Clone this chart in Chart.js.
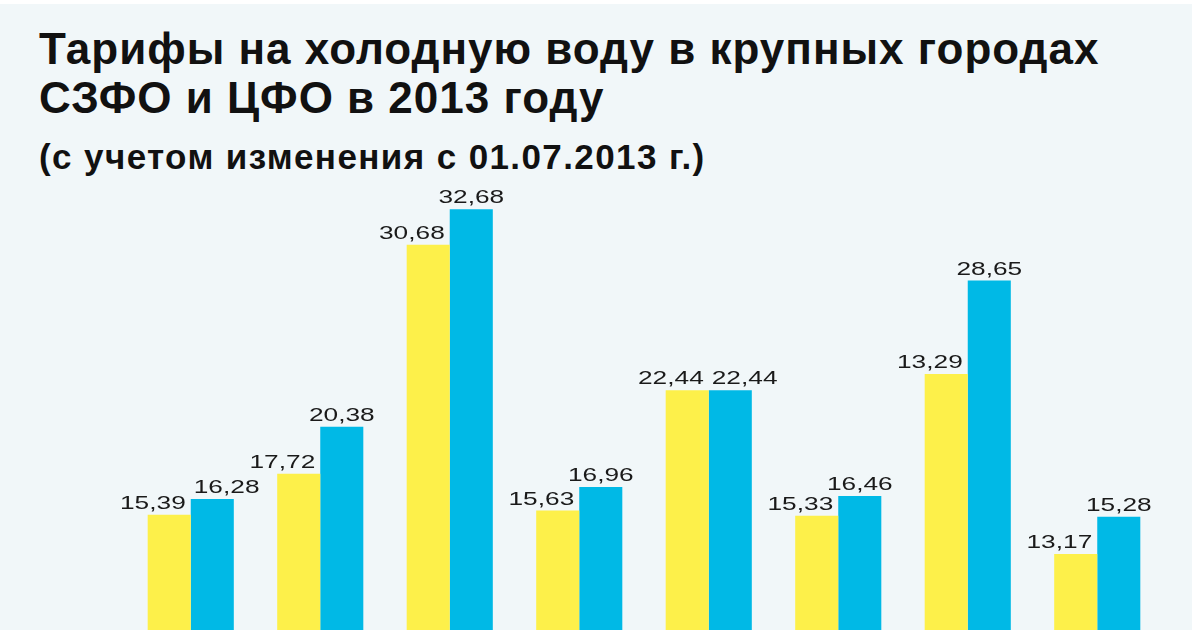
<!DOCTYPE html>
<html lang="ru">
<head>
<meta charset="utf-8">
<script src="https://cdn.jsdelivr.net/npm/chart.js@4/dist/chart.umd.min.js"></script>
<style>
  html, body { margin: 0; padding: 0; background: #ffffff; }
  #wrap { position: relative; width: 1200px; height: 630px; overflow: hidden; background: #ffffff; }
  #panel { position: absolute; left: 0; top: 4px; width: 1192px; height: 626px; background: #f1f7f9; }
  .head { position: absolute; left: 39px; font-family: "Liberation Sans", Arial, sans-serif; font-weight: bold; color: #111; white-space: nowrap; line-height: 1; }
  #t1 { top: 27px; font-size: 44px; letter-spacing: 1px; }
  #t2 { top: 76px; font-size: 44px; letter-spacing: 1px; }
  #t3 { top: 139px; font-size: 35px; letter-spacing: 1.4px; }
  canvas { position: absolute; left: 0; top: 0; }
</style>
</head>
<body>
<div id="wrap">
  <div id="panel"></div>
  <div class="head" id="t1">Тарифы на холодную воду в крупных городах</div>
  <div class="head" id="t2">СЗФО и ЦФО в 2013 году</div>
  <div class="head" id="t3">(с учетом изменения с 01.07.2013 г.)</div>
  <canvas id="waterChart" width="1200" height="630"></canvas>
</div>
<script>
"use strict"

// группы (подписи городов на картинке обрезаны)
const groups = ['1', '2', '3', '4', '5', '6', '7', '8'];

// жёлтые столбцы - высоты как на картинке (у 7-го подпись 13,29, а столбец выше)
const yellowValues = [15.39, 17.72, 30.68, 15.63, 22.44, 15.33, 23.36, 13.17];
const yellowLabels = ['15,39', '17,72', '30,68', '15,63', '22,44', '15,33', '13,29', '13,17'];

// голубые столбцы
const blueValues = [16.28, 20.38, 32.68, 16.96, 22.44, 16.46, 28.65, 15.28];
const blueLabels = ['16,28', '20,38', '32,68', '16,96', '22,44', '16,46', '28,65', '15,28'];

const ctx = document.getElementById('waterChart');

function drawStretched(c, text, x, y, stretch) {
    c.save();
    c.translate(x, y);
    c.scale(stretch, 1);
    c.fillText(text, 0, 0);
    c.restore();
}

const valueLabels = {
    id: 'valueLabels',
    afterDatasetsDraw(chart) {
        const c = chart.ctx;
        const stretch = 1.42;
        c.save();
        c.font = '18.5px "Liberation Sans", Arial, sans-serif';
        c.fillStyle = '#1a1a1a';
        c.textBaseline = 'alphabetic';
        c.textAlign = 'left';
        const yMeta = chart.getDatasetMeta(0);
        const bMeta = chart.getDatasetMeta(1);
        for (let i = 0; i < groups.length; i++) {
            const yb = yMeta.data[i];
            const bb = bMeta.data[i];

            const yw = c.measureText(yellowLabels[i]).width * stretch;
            const yRight = yb.x + yb.width / 2 - 5;
            const yLeft = yRight - yw;
            drawStretched(c, yellowLabels[i], yLeft, yb.y - 6, stretch);

            const bw = c.measureText(blueLabels[i]).width * stretch;
            let bLeft = bb.x - bw / 2;
            if (Math.abs(bb.y - yb.y) < 16 && bLeft < yRight + 6) {
                bLeft = yRight + 8;
            }
            drawStretched(c, blueLabels[i], bLeft, bb.y - 6, stretch);
        }
        c.restore();
    }
};

const waterChart = new Chart(ctx, {
    type: 'bar',
    data: {
        labels: groups,
        datasets: [{
            label: 'до 01.07.2013',
            data: yellowValues,
            backgroundColor: '#fdf04a',
            borderWidth: 0
        }, {
            label: 'с 01.07.2013',
            data: blueValues,
            backgroundColor: '#00b9e6',
            borderWidth: 0
        }]
    },
    options: {
        responsive: false,
        animation: false,
        devicePixelRatio: 1,
        layout: {
            padding: { left: 126, right: 38, top: 180, bottom: 0 }
        },
        datasets: {
            bar: {
                categoryPercentage: 0.665,
                barPercentage: 1
            }
        },
        scales: {
            x: { display: false },
            y: { display: false, min: 8.87, max: 34.34 }
        },
        plugins: {
            legend: { display: false },
            tooltip: { enabled: false }
        }
    },
    plugins: [valueLabels]
});
</script>
</body>
</html>
